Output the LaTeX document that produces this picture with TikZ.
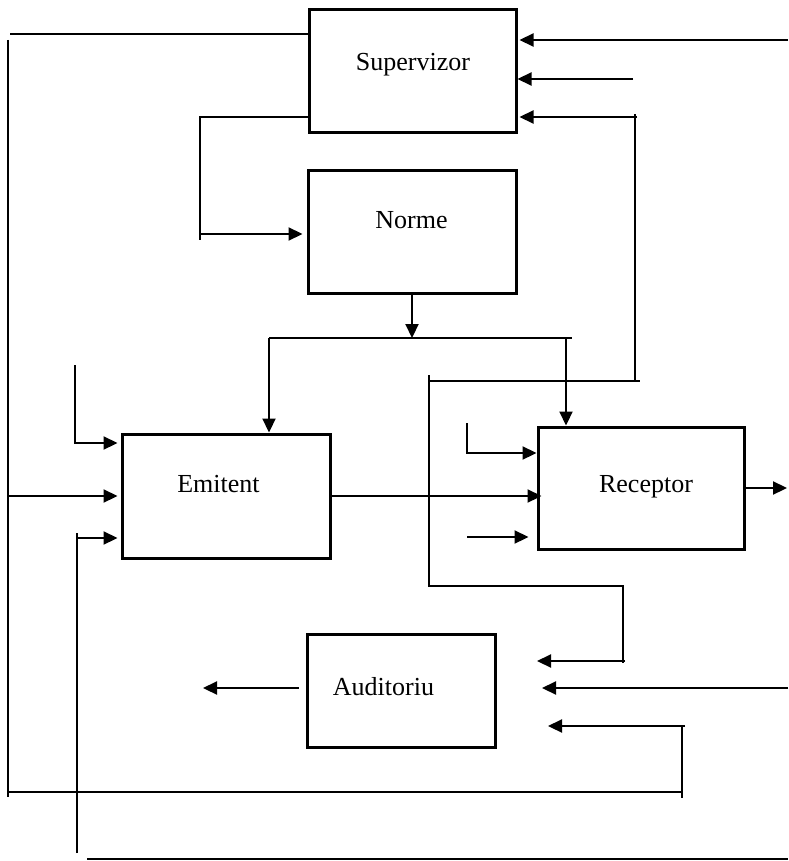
\documentclass[tikz,border=0pt]{standalone}
\usepackage{fontspec}
\setmainfont{Liberation Serif}
\usetikzlibrary{arrows.meta}
\begin{document}
\begin{tikzpicture}[x=1pt,y=-1pt,line width=2.2pt,
  >={Triangle[length=14pt,width=13pt]},
  box/.style={draw,rectangle,line width=3pt,inner sep=0pt},
  lbl/.style={anchor=base,inner sep=0pt,font=\fontsize{26}{30}\selectfont}]
\useasboundingbox (0,0) rectangle (788,861);
% boxes
\node[box,minimum width=207pt,minimum height=123pt] (sup) at (412.5,71.5) {};
\node[box,minimum width=208pt,minimum height=122pt] (nor) at (412,232) {};
\node[box,minimum width=208pt,minimum height=124pt] (emi) at (226,496) {};
\node[box,minimum width=206pt,minimum height=122pt] (rec) at (641,488) {};
\node[box,minimum width=188pt,minimum height=113pt] (aud) at (401,690.5) {};
% labels
\node[lbl] (supT) at (413,71) {Supervizor};
\node[lbl] (norT) at (411.5,228) {Norme};
\node[lbl] (emiT) at (218.5,492.5) {Emitent};
\node[lbl] (recT) at (646,492.5) {Receptor};
\node[lbl] (audT) at (383.5,695) {Auditoriu};
% free ends
\coordinate (tl) at (10,34);
\coordinate (lvTop) at (8,40);
\coordinate (lvBot) at (8,797);
\coordinate (bh) at (682,792);
\coordinate (bvTop) at (682,726);
\coordinate (bvBot) at (682,798);
\coordinate (e1) at (75,365);
\coordinate (e1c) at (75,443);
\coordinate (e3) at (77,853);
\coordinate (e3c) at (77,538);
\coordinate (bl1) at (87,859);
\coordinate (bl2) at (788,859);
\coordinate (rOut) at (787,488);
\coordinate (r1) at (467,423);
\coordinate (r1c) at (467,453);
\coordinate (r3) at (467,537);
\coordinate (s1) at (788,40);
\coordinate (s2) at (633,79);
\coordinate (sn1) at (200,117);
\coordinate (sn2) at (200,240);
\coordinate (sn3) at (200,234);
\coordinate (hL) at (269,338);
\coordinate (hR) at (572,338);
\coordinate (fbA) at (429,375);
\coordinate (fbB) at (429,587);
\coordinate (fbC) at (640,381);
\coordinate (fbD) at (635,381);
\coordinate (fbE) at (635,114);
\coordinate (fbF) at (637,117);
\coordinate (g1) at (429,586);
\coordinate (g2) at (623,586);
\coordinate (g3) at (623,663);
\coordinate (g4) at (625,661);
\coordinate (a1) at (788,688);
\coordinate (a2) at (685,726);
\coordinate (audOut) at (203,688);

% top line and left frame
\draw (tl) -- (tl -| sup.west);
\draw (lvTop) -- (lvBot);
\draw (lvBot |- bh) -- (bh);
\draw (bvTop) -- (bvBot);
\draw[->] (a2) -- (548,726);
% inputs to Emitent
\draw[->,shorten >=3pt] (lvTop |- emi.west) -- (emi.west);
\draw[->,shorten >=3pt] (e1) -- (e1c) -- (e1c -| emi.west);
\draw (e3) -- (77,533);
\draw[->,shorten >=3pt] (e3c) -- (e3c -| emi.west);
% bottom line
\draw (bl1) -- (bl2);
% Emitent -> Receptor
\draw[->,shorten >=-5pt] (emi.east) -- (emi.east -| rec.west);
\draw[->] (rec.east) -- (rOut);
% inputs to Receptor
\draw[->] (r1) -- (r1c) -- (r1c -| rec.west);
\draw[->,shorten >=8pt] (r3) -- (r3 -| rec.west);
% inputs to Supervizor
\draw[->,shorten >=2pt] (s1) -- (s1 -| sup.east);
\draw[->] (s2) -- (s2 -| sup.east);
% Supervizor -> Norme
\draw (sup.west |- sn1) -- (sn1) -- (sn2);
\draw[->,shorten >=4pt] (sn3) -- (sn3 -| nor.west);
% Norme -> Emitent, Receptor
\draw[->] (nor.south) -- (nor.south |- hL);
\draw (hL) -- (hR);
\draw[->] (hL) -- (hL |- emi.north);
\draw[->] (566,338) -- (566,338 |- rec.north);
% feedback to Supervizor
\draw (fbA) -- (fbB);
\draw (fbA |- fbC) -- (fbC);
\draw (fbD) -- (fbE);
\draw[->,shorten >=2pt] (fbF) -- (fbF -| sup.east);
% feedback to Auditoriu side
\draw (g1) -- (g2) -- (g3);
\draw[->] (g4) -- (537,661);
\draw[->] (a1) -- (542,688);
% Auditoriu output
\draw[->] (aud.west |- audOut) ++(-7,0) -- (audOut);
\end{tikzpicture}
\end{document}
